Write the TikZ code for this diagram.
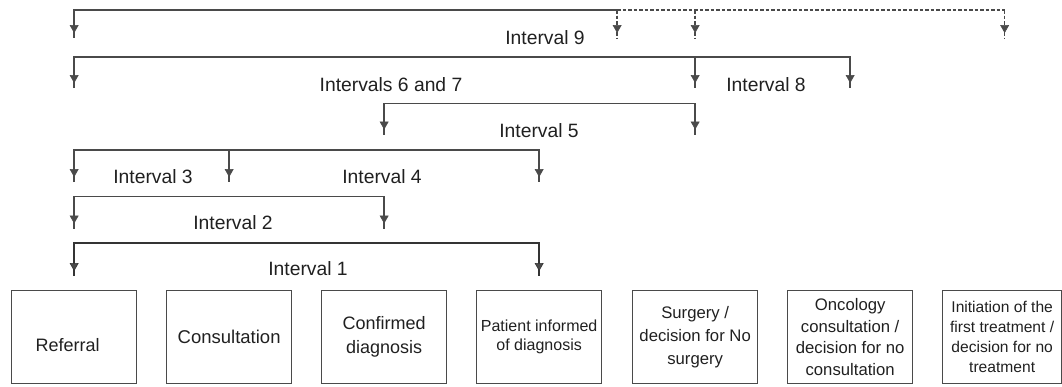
\documentclass[tikz,border=0pt]{standalone}
\usepackage{fontspec}
\setmainfont{Liberation Sans}
\usetikzlibrary{arrows.meta,calc}
\definecolor{ln}{HTML}{4A4A4A}
\definecolor{tx}{HTML}{202020}
\begin{document}
\begin{tikzpicture}[x=1pt,y=-1pt,
  hd/.tip={Triangle[length=8pt,width=9pt,fill=ln,line width=0.6pt]},
  bline/.style={draw=ln, line width=1.4pt},
  boldline/.style={draw=ln!70!black, line width=2.1pt},
  dline/.style={draw=ln, line width=1.4pt, dash pattern=on 3.5pt off 2pt},
  tip/.style={postaction={draw, -hd, shorten >=5pt}},
  tips/.style={postaction={draw, hd-hd, shorten >=5pt, shorten <=5pt}},
  box/.style={draw=ln, line width=1.3pt, anchor=north west, minimum height=93pt,
    minimum width=125pt, inner sep=1pt, align=center, text=tx},
  lab/.style={text=tx, font=\fontsize{19.3}{22}\selectfont, inner sep=0pt}]
\useasboundingbox (0,0) rectangle (1062,386);
% boxes
\node[box, font=\fontsize{18}{22}\selectfont] (b1) at (11,290) {\raisebox{-8pt}[\height][\depth]{\hspace*{-13pt}Referral}};
\node[box, font=\fontsize{18.5}{22}\selectfont] (b2) at (166,290) {Consultation};
\node[box, font=\fontsize{18}{24}\selectfont] (b3) at (321,290) {Confirmed\\diagnosis};
\node[box, font=\fontsize{16}{19}\selectfont] (b4) at (476,290) {Patient informed\\of diagnosis};
\node[box, font=\fontsize{16.7}{23}\selectfont] (b5) at (632,290) {Surgery /\\decision for No\\surgery};
\node[box, font=\fontsize{16.7}{21.5}\selectfont] (b6) at (787,290) {Oncology\\consultation /\\decision for no\\consultation};
\node[box, minimum width=119pt, font=\fontsize{15.6}{20}\selectfont] (b7) at (942,290) {Initiation of the\\first treatment /\\decision for no\\treatment};
% levels
\coordinate (m45) at ($(b4.north east)!0.5!(b5.north west)$);
\coordinate (e7) at ([xshift=2.5pt]b7.north);
\coordinate (y9) at (0,10);    \coordinate (t9) at (0,38);
\coordinate (y67) at (0,57);   \coordinate (t67) at (0,88);
\coordinate (y5) at (0,103.5); \coordinate (t5) at (0,134.5);
\coordinate (y34) at (0,150);  \coordinate (t34) at (0,182);
\coordinate (y2) at (0,196.5); \coordinate (t2) at (0,228.5);
\coordinate (y1) at (0,243);   \coordinate (t1) at (0,276);
% interval 9
\draw[bline,tip] (m45 |- y9) -- (b1.north |- y9) -- (b1.north |- t9);
\draw[dline,tip] (m45 |- y9) -- (m45 |- t9);
\draw[dline] (m45 |- y9) -- (e7 |- y9);
\draw[dline,tip] (b5.north |- y9) -- (b5.north |- t9);
\draw[dline,tip] (e7 |- y9) -- (e7 |- t9);
% intervals 6,7,8
\draw[bline,tips] (b1.north |- t67) -- (b1.north |- y67) -- (b6.north |- y67) -- (b6.north |- t67);
\draw[bline,tip] (b5.north |- y67) -- (b5.north |- t67);
% interval 5
\draw[bline,tips] (b3.north |- t5) -- (b3.north |- y5) -- (b5.north |- y5) -- (b5.north |- t5);
% intervals 3,4
\draw[bline,tips] (b1.north |- t34) -- (b1.north |- y34) -- (b4.north |- y34) -- (b4.north |- t34);
\draw[bline,tip] (b2.north |- y34) -- (b2.north |- t34);
% interval 2
\draw[bline,tips] (b1.north |- t2) -- (b1.north |- y2) -- (b3.north |- y2) -- (b3.north |- t2);
% interval 1
\draw[boldline,tips] (b1.north |- t1) -- (b1.north |- y1) -- (b4.north |- y1) -- (b4.north |- t1);
% labels
\node[lab] (l9) at (545,38) {Interval 9};
\node[lab] (l67) at (391,85) {Intervals 6 and 7};
\node[lab] (l8) at (766,85) {Interval 8};
\node[lab] (l5) at (539,131) {Interval 5};
\node[lab] (l3) at (153,177) {Interval 3};
\node[lab] (l4) at (382,177) {Interval 4};
\node[lab] (l2) at (233,223) {Interval 2};
\node[lab] (l1) at (308,269) {Interval 1};
\end{tikzpicture}
\end{document}
